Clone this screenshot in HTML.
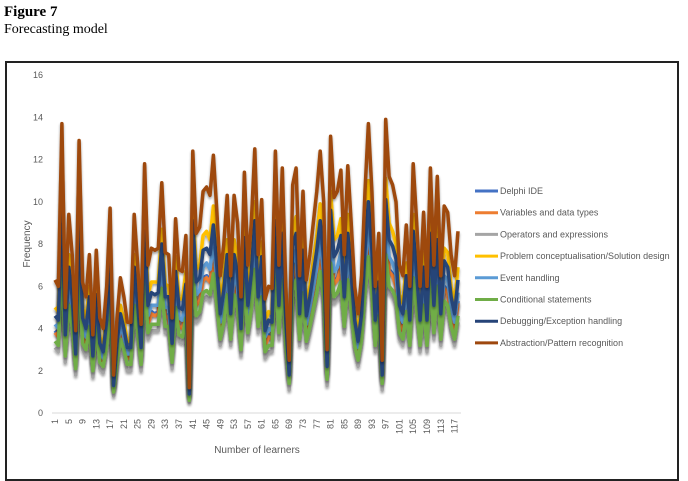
<!DOCTYPE html>
<html><head><meta charset="utf-8"><style>
body{margin:0;background:#fff;width:688px;height:476px;overflow:hidden;position:relative;font-family:"Liberation Serif",serif}
#t1{position:absolute;left:4px;top:4px;font-size:15px;font-weight:bold;color:#000}
#t2{position:absolute;left:4px;top:22px;font-size:14px;color:#000}
#frame{position:absolute;left:5px;top:61px;width:674px;height:420px;border:2px solid #222;box-sizing:border-box}
svg{position:absolute;left:0;top:0}
text{font-family:"Liberation Sans",sans-serif}
</style></head><body>
<div id="t1">Figure 7</div>
<div id="t2">Forecasting model</div>
<div id="frame"></div>
<svg id="chart" width="688" height="476">
<defs><filter id="sh" x="-5%" y="-5%" width="110%" height="115%"><feGaussianBlur in="SourceAlpha" stdDeviation="1.3"/><feOffset dx="0" dy="2"/><feComponentTransfer><feFuncA type="linear" slope="0.4"/></feComponentTransfer><feMerge><feMergeNode/><feMergeNode in="SourceGraphic"/></feMerge></filter></defs>
</svg>
<script>
const seriesNames=["Delphi IDE","Variables and data types","Operators and expressions","Problem conceptualisation/Solution design","Event handling","Conditional statements","Debugging/Exception handling","Abstraction/Pattern recognition"];
const seriesColors=["#4472C4","#ED7D31","#A5A5A5","#FFC000","#5B9BD5","#70AD47","#264478","#9E480E"];
const yTicks=[0,2,4,6,8,10,12,14,16];
const delphi=[3.9,3.7,8.3,3.1,5.7,4.6,2.4,7.8,3.8,3.4,4.6,2.3,4.7,2.8,2.5,3.7,5.9,1.2,2.8,3.9,3.4,2.7,2.7,5.7,4.3,2.6,7.2,4.3,4.8,4.7,4.8,6.6,4.7,4.6,2.8,5.6,4.2,4.1,5.1,0.8,7.5,5.2,5.4,6.4,6.5,6.3,7.4,5.8,4.0,4.9,6.3,4.0,6.3,5.5,3.4,6.9,4.3,5.5,7.6,4.6,6.2,3.3,3.7,3.6,7.5,4.3,7.1,3.7,1.6,6.6,7.1,4.0,6.4,3.9,4.6,5.5,6.4,7.5,6.1,1.9,8.0,6.2,6.4,7.0,4.6,7.1,5.5,3.7,2.9,4.0,6.4,8.3,6.4,3.7,5.2,1.6,8.4,6.8,6.6,6.1,4.3,4.0,5.4,3.7,7.2,5.5,3.7,5.8,3.7,7.1,4.3,6.8,4.0,6.0,5.8,4.6,4.0,5.3];
const variables=[3.8,3.6,8.2,3.0,5.6,4.5,2.3,7.7,3.7,3.3,4.5,2.2,4.6,2.7,2.4,3.6,5.8,1.1,2.7,3.8,3.3,2.6,2.6,5.6,4.2,2.5,7.1,4.2,4.7,4.6,4.7,6.5,4.6,4.5,2.7,5.5,4.1,4.0,5.0,0.7,7.4,5.1,5.3,6.3,6.4,6.2,7.3,5.7,3.9,4.8,6.2,3.9,6.2,5.4,3.3,6.8,4.2,5.4,7.5,4.5,6.1,3.2,3.6,3.5,7.4,4.2,7.0,3.6,1.5,6.5,7.0,3.9,6.3,3.8,4.5,5.4,6.3,7.4,6.0,1.8,7.9,6.1,6.3,6.9,4.5,7.0,5.4,3.6,2.8,3.9,6.3,8.2,6.3,3.6,5.1,1.5,8.3,6.7,6.5,6.0,4.2,3.9,5.3,3.6,7.1,5.4,3.6,5.7,3.6,7.0,4.2,6.7,3.9,5.9,5.7,4.5,3.9,5.2];
const operators=[3.1,2.9,7.1,2.4,4.8,3.8,1.8,6.7,3.0,2.7,3.8,1.7,3.9,2.1,1.9,2.9,4.9,0.8,2.1,3.2,2.7,2.0,2.0,4.8,3.5,2.0,6.1,3.5,3.9,3.9,3.9,5.6,3.8,3.8,2.1,4.7,3.4,3.3,4.2,0.5,6.4,4.3,4.5,5.4,5.5,5.3,6.3,4.8,3.2,4.0,5.3,3.2,5.3,4.6,2.7,5.9,3.5,4.6,6.5,3.8,5.2,2.6,2.9,2.9,6.4,3.5,6.0,2.9,1.1,5.5,6.0,3.2,5.4,3.1,3.8,4.6,5.4,6.4,5.1,1.3,6.8,5.2,5.4,5.9,3.8,6.0,4.6,2.9,2.2,3.2,5.4,7.1,5.4,2.9,4.3,1.1,7.2,5.7,5.5,5.1,3.5,3.2,4.5,2.9,6.1,4.6,2.9,4.8,2.9,6.0,3.5,5.7,3.2,5.0,4.8,3.8,3.2,4.3];
const problem=[5.0,4.8,11.0,4.0,7.5,6.0,3.1,10.3,5.0,4.4,6.0,3.0,6.2,3.6,3.2,4.8,7.8,1.4,3.6,5.1,4.4,3.4,3.4,7.5,5.6,3.4,9.4,5.6,6.2,6.2,6.2,8.7,6.1,6.0,3.6,7.4,5.4,5.4,6.7,1.0,9.9,6.8,7.0,8.4,8.6,8.2,9.8,7.6,5.2,6.4,8.2,5.2,8.2,7.2,4.4,9.1,5.6,7.2,10.0,6.0,8.1,4.3,4.8,4.7,9.9,5.6,9.3,4.8,2.0,8.6,9.3,5.2,8.4,5.0,6.0,7.2,8.4,9.9,8.0,2.4,10.5,8.2,8.4,9.2,6.0,9.4,7.2,4.8,3.8,5.2,8.4,11.0,8.4,4.8,6.8,2.0,11.1,9.0,8.6,8.0,5.6,5.2,7.1,4.8,9.4,7.2,4.8,7.6,4.8,9.3,5.6,9.0,5.2,7.8,7.6,6.0,5.2,6.9];
const eventH=[4.2,4.0,9.0,3.3,6.2,5.0,2.6,8.5,4.1,3.6,5.0,2.4,5.1,3.0,2.6,4.0,6.4,1.2,3.0,4.2,3.6,2.8,2.8,6.2,4.6,2.8,7.8,4.6,5.1,5.1,5.1,7.2,5.0,5.0,3.0,6.1,4.5,4.4,5.5,0.8,8.2,5.6,5.8,6.9,7.1,6.8,8.1,6.3,4.3,5.3,6.8,4.3,6.8,5.9,3.6,7.5,4.6,5.9,8.3,5.0,6.7,3.6,4.0,3.9,8.2,4.6,7.7,4.0,1.7,7.1,7.7,4.3,6.9,4.2,5.0,5.9,6.9,8.2,6.6,2.0,8.6,6.7,6.9,7.6,5.0,7.7,5.9,4.0,3.1,4.3,6.9,9.0,6.9,4.0,5.6,1.7,9.2,7.4,7.1,6.6,4.6,4.3,5.9,4.0,7.8,5.9,4.0,6.3,4.0,7.7,4.6,7.4,4.3,6.5,6.3,5.0,4.3,5.7];
const conditional=[3.4,3.2,7.4,2.7,5.1,4.1,2.1,7.0,3.3,3.0,4.1,2.0,4.2,2.4,2.2,3.2,5.2,1.0,2.4,3.5,3.0,2.3,2.3,5.1,3.8,2.3,6.4,3.8,4.2,4.2,4.2,5.9,4.1,4.1,2.4,5.0,3.7,3.6,4.5,0.6,6.7,4.6,4.8,5.7,5.8,5.6,6.6,5.1,3.5,4.3,5.6,3.5,5.6,4.9,3.0,6.2,3.8,4.9,6.8,4.1,5.5,2.9,3.2,3.2,6.7,3.8,6.3,3.2,1.4,5.8,6.3,3.5,5.7,3.4,4.1,4.9,5.7,6.7,5.4,1.6,7.1,5.5,5.7,6.2,4.1,6.3,4.9,3.2,2.5,3.5,5.7,7.4,5.7,3.2,4.6,1.4,7.5,6.0,5.8,5.4,3.8,3.5,4.8,3.2,6.4,4.9,3.2,5.1,3.2,6.3,3.8,6.0,3.5,5.3,5.1,4.1,3.5,4.6];
const debugging=[4.6,4.4,10.0,3.7,6.9,5.5,2.8,9.4,4.5,4.0,5.5,2.7,5.6,3.3,2.9,4.4,7.1,1.3,3.3,4.7,4.0,3.1,3.1,6.9,5.1,3.1,8.6,5.1,5.7,5.6,5.7,8.0,5.5,5.5,3.3,6.7,5.0,4.9,6.1,0.9,9.1,6.2,6.4,7.7,7.8,7.5,8.9,6.9,4.7,5.8,7.5,4.7,7.5,6.6,4.0,8.3,5.1,6.6,9.1,5.5,7.4,3.9,4.4,4.3,9.1,5.1,8.5,4.4,1.8,7.9,8.5,4.7,7.7,4.6,5.5,6.6,7.7,9.1,7.3,2.2,9.6,7.4,7.7,8.4,5.5,8.5,6.6,4.4,3.4,4.7,7.7,10.0,7.7,4.4,6.2,1.8,10.1,8.2,7.9,7.3,5.1,4.7,6.5,4.4,8.6,6.6,4.4,6.9,4.4,8.5,5.1,8.2,4.7,7.2,6.9,5.5,4.7,6.3];
const abstraction=[6.3,6.0,13.7,5.0,9.4,7.5,3.9,12.9,6.2,5.5,7.5,3.7,7.7,4.5,4.0,6.0,9.7,1.8,4.5,6.4,5.5,4.3,4.3,9.4,7.0,4.2,11.8,7.0,7.8,7.7,7.8,10.9,7.6,7.5,4.5,9.2,6.8,6.7,8.4,1.2,12.4,8.5,8.8,10.5,10.7,10.3,12.2,9.5,6.5,8.0,10.3,6.5,10.3,9.0,5.5,11.4,7.0,9.0,12.5,7.5,10.1,5.4,6.0,5.9,12.4,7.0,11.6,6.0,2.5,10.8,11.6,6.5,10.5,6.3,7.5,9.0,10.5,12.4,10.0,3.0,13.1,10.2,10.5,11.5,7.5,11.7,9.0,6.0,4.7,6.5,10.5,13.7,10.5,6.0,8.5,2.5,13.9,11.2,10.8,10.0,7.0,6.5,8.9,6.0,11.8,9.0,6.0,9.5,6.0,11.6,7.0,11.2,6.5,9.8,9.5,7.5,6.5,8.6];
const allSeries=[delphi,variables,operators,problem,eventH,conditional,debugging,abstraction];
const svg=document.getElementById('chart');
const NS='http://www.w3.org/2000/svg';
const X0=55,X1=458,Y0=413,Y1=75,YMAX=16;
const nPts=abstraction.length;
function xs(i){return X0+(X1-X0)*i/(nPts-1);}
function ys(v){return Y0-(Y0-Y1)*v/YMAX;}
function mk(tag,attrs){const e=document.createElementNS(NS,tag);for(const k in attrs)e.setAttribute(k,attrs[k]);svg.appendChild(e);return e;}
let ax=mk('line',{x1:52,x2:461,y1:Y0,y2:Y0,stroke:'#d9d9d9','stroke-width':1});


yTicks.forEach(t=>{
  const e=mk('text',{x:43,y:ys(t)+3,'font-size':9,fill:'#595959','text-anchor':'end'});
  e.textContent=t;
  
  
});
for(let i=0;i<nPts;i+=4){
  const x=xs(i),y=Y0+6;
  const e=mk('text',{x:x,y:y,'font-size':9,fill:'#595959','text-anchor':'end',transform:`rotate(-90 ${x} ${y}) translate(0 3)`});
  e.textContent=String(i+1);
  
  
}
let xt=mk('text',{x:257,y:453,'font-size':10,fill:'#595959','text-anchor':'middle'});
xt.textContent='Number of learners';


let yt=mk('text',{x:30,y:244,'font-size':10,fill:'#595959','text-anchor':'middle',transform:'rotate(-90 30 244)'});
yt.textContent='Frequency';


allSeries.forEach((s,k)=>{
  const d=s.map((v,i)=>(i?'L':'M')+xs(i).toFixed(1)+' '+ys(v).toFixed(1)).join(' ');
  const p=mk('path',{d:d,fill:'none',stroke:seriesColors[k],'stroke-width':3.5,'stroke-linejoin':'round',filter:'url(#sh)'});
  
  
});
seriesNames.forEach((n,k)=>{
  const y=191+k*21.7;
  const l=mk('line',{x1:475,x2:498,y1:y,y2:y,stroke:seriesColors[k],'stroke-width':3});
  
  
  const t=mk('text',{x:500,y:y+3,'font-size':9,fill:'#595959'});
  t.textContent=n;
  
  
});
</script>
</body></html>
